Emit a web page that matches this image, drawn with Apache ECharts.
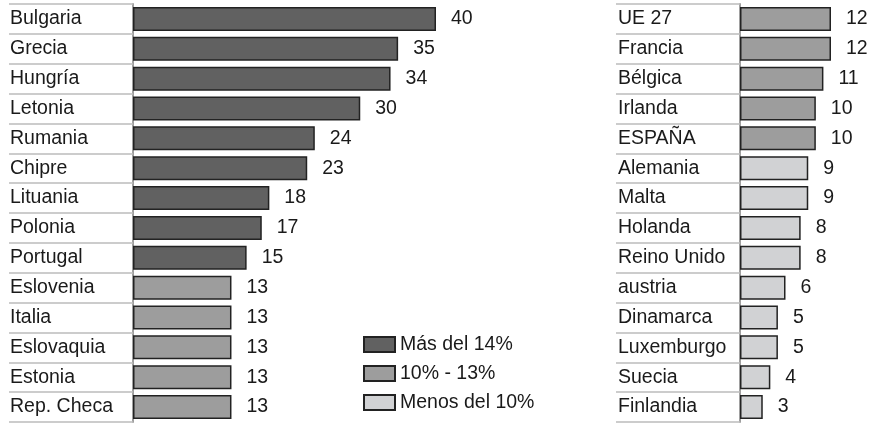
<!DOCTYPE html>
<html>
<head>
<meta charset="utf-8">
<script src="https://cdn.jsdelivr.net/npm/echarts@6/dist/echarts.min.js"></script>
<style>
  html, body { margin: 0; padding: 0; background: #fff; }
  #chart { width: 873px; height: 423px; }
</style>
</head>
<body>
<div id="chart"></div>
<script>
// left panel
const leftCountries = ['Bulgaria', 'Grecia', 'Hungría', 'Letonia', 'Rumania', 'Chipre', 'Lituania',
  'Polonia', 'Portugal', 'Eslovenia', 'Italia', 'Eslovaquia', 'Estonia', 'Rep. Checa'];
const leftValues = [40, 35, 34, 30, 24, 23, 18, 17, 15, 13, 13, 13, 13, 13];

// right panel
const rightCountries = ['UE 27', 'Francia', 'Bélgica', 'Irlanda', 'ESPAÑA', 'Alemania', 'Malta',
  'Holanda', 'Reino Unido', 'austria', 'Dinamarca', 'Luxemburgo', 'Suecia', 'Finlandia'];
const rightValues = [12, 12, 11, 10, 10, 9, 9, 8, 8, 6, 5, 5, 4, 3];

const groupNames = ['Más del 14%', '10% - 13%', 'Menos del 10%'];
const groupColors = ['#616161', '#9d9d9d', '#d1d2d4'];

const font = 'Liberation Sans';
const fontSize = 19.5;

// which colour group a value falls in
function groupOf(v) {
  if (v >= 14) return 0;
  if (v >= 10) return 1;
  return 2;
}

const chart = echarts.init(document.getElementById('chart'));

function yAxisFor(idx, cats, tickLen, margin) {
  return {
    type: 'category',
    gridIndex: idx,
    data: cats,
    inverse: true,
    axisLine: { show: true, lineStyle: { color: '#a0a0a0', width: 2 } },
    axisTick: { show: true, length: tickLen, lineStyle: { color: '#bcbcbc', width: 1.5 } },
    axisLabel: {
      align: 'left',
      margin: margin,
      color: '#1a1a1a',
      fontFamily: font,
      fontSize: fontSize
    }
  };
}

function seriesFor(idx, values) {
  return groupNames.map((name, g) => ({
    name: name,
    type: 'bar',
    xAxisIndex: idx,
    yAxisIndex: idx,
    barWidth: 24,
    barGap: '-100%',
    itemStyle: { color: groupColors[g], borderColor: '#222', borderWidth: 1.5 },
    label: {
      show: true,
      position: 'right',
      distance: 15,
      color: '#1a1a1a',
      fontFamily: font,
      fontSize: fontSize
    },
    data: values.map(v => (groupOf(v) === g ? v : '-'))
  }));
}

const option = {
  animation: false,
  textStyle: { fontFamily: font },
  legend: {
    orient: 'vertical',
    left: 358,
    top: 329,
    icon: 'rect',
    itemWidth: 31,
    itemHeight: 15,
    itemGap: 8,
    textStyle: {
      fontSize: fontSize, lineHeight: 21, color: '#1a1a1a', fontFamily: font
    },
    data: groupNames
  },
  grid: [
    { left: 133, top: 4, width: 303, height: 418 },
    { left: 740, top: 4, width: 91, height: 418 }
  ],
  xAxis: [
    { type: 'value', gridIndex: 0, min: 0, max: 40, show: false },
    { type: 'value', gridIndex: 1, min: 0, max: 12, show: false }
  ],
  yAxis: [
    yAxisFor(0, leftCountries, 124, 123),
    yAxisFor(1, rightCountries, 124, 122)
  ],
  series: seriesFor(0, leftValues).concat(seriesFor(1, rightValues))
};

chart.setOption(option);
</script>
</body>
</html>
